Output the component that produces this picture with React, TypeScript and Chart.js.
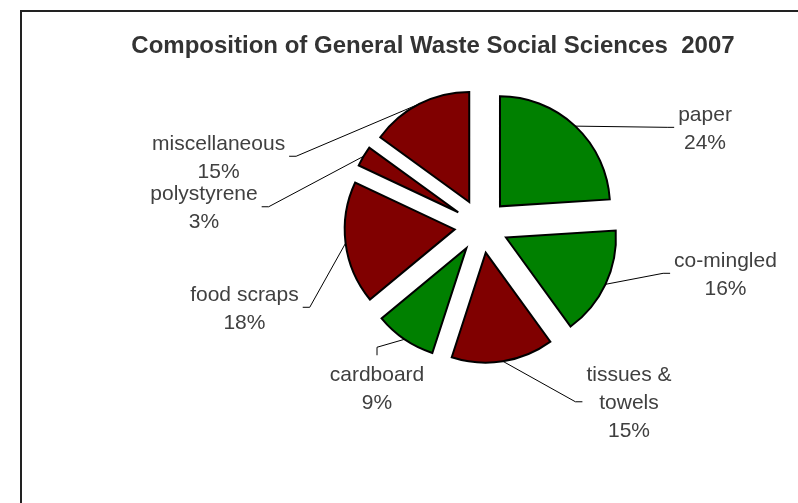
import React, { useEffect, useRef } from 'react';
import { Chart, registerables } from 'chart.js';

Chart.register(...registerables);

// ---- data ----
const categories = ['paper', 'co-mingled', 'tissues & towels', 'cardboard', 'food scraps', 'polystyrene', 'miscellaneous'];
const shares = [24, 16, 15, 9, 18, 3, 15];
const sliceColors = ['#008000', '#008000', '#800000', '#008000', '#800000', '#800000', '#800000'];
const titleText = 'Composition of General Waste Social Sciences  2007';

// ---- layout (label block centres relative to pie centre, in radii) ----
const labelPlacement: [number, number][] = [
  [2.032, -0.897],
  [2.218, 0.43],
  [1.341, 1.598],
  [-0.95, 1.466],
  [-2.155, 0.739],
  [-2.523, -0.175],
  [-2.39, -0.634],
];
const EXPLODE = 27;
const FONT = '"Liberation Sans", Arial, Helvetica, sans-serif';
const LABEL_SIZE = 21;
const LINE_H = 28;
const WRAP_W = 140;

function wrap(ctx: CanvasRenderingContext2D, text: string, maxW: number): string[] {
  const words = text.split(' ');
  const lines: string[] = [];
  let cur = '';
  for (const w of words) {
    const t = cur ? cur + ' ' + w : w;
    if (cur && ctx.measureText(t).width > maxW) {
      lines.push(cur);
      cur = w;
    } else cur = t;
  }
  if (cur) lines.push(cur);
  return lines;
}

const explodedPie = {
  id: 'explodedPie',
  beforeDatasetsDraw(chart: any) {
    const ctx: CanvasRenderingContext2D = chart.ctx;
    const meta = chart.getDatasetMeta(0);
    ctx.save();
    meta.data.forEach((arc: any) => {
      const { x, y, startAngle, endAngle, outerRadius } = arc.getProps(['x', 'y', 'startAngle', 'endAngle', 'outerRadius'], true);
      const mid = (startAngle + endAngle) / 2;
      const ox = x + Math.cos(mid) * EXPLODE;
      const oy = y + Math.sin(mid) * EXPLODE;
      ctx.beginPath();
      ctx.moveTo(ox, oy);
      ctx.arc(ox, oy, outerRadius, startAngle, endAngle);
      ctx.closePath();
      ctx.fillStyle = arc.options.backgroundColor;
      ctx.fill();
      ctx.lineWidth = arc.options.borderWidth;
      ctx.strokeStyle = arc.options.borderColor;
      ctx.lineJoin = 'miter';
      ctx.stroke();
    });
    ctx.restore();
    return false;
  },
  afterDraw(chart: any) {
    const ctx: CanvasRenderingContext2D = chart.ctx;
    const meta = chart.getDatasetMeta(0);
    const total = shares.reduce((a, b) => a + b, 0);
    ctx.save();

    // frame
    ctx.strokeStyle = '#222';
    ctx.lineWidth = 2;
    ctx.beginPath();
    ctx.moveTo(21, chart.height + 5);
    ctx.lineTo(21, 11);
    ctx.lineTo(chart.width + 5, 11);
    ctx.stroke();

    // title
    ctx.fillStyle = '#333';
    ctx.font = `bold 24px ${FONT}`;
    ctx.textAlign = 'center';
    ctx.textBaseline = 'alphabetic';
    ctx.fillText(titleText, 433, 52.5);

    // labels
    ctx.font = `${LABEL_SIZE}px ${FONT}`;
    const capH = LABEL_SIZE * 0.716;
    meta.data.forEach((arc: any, i: number) => {
      const { x, y, startAngle, endAngle, outerRadius } = arc.getProps(['x', 'y', 'startAngle', 'endAngle', 'outerRadius'], true);
      const mid = (startAngle + endAngle) / 2;
      const px = x + Math.cos(mid) * (EXPLODE + outerRadius);
      const py = y + Math.sin(mid) * (EXPLODE + outerRadius);
      const lines = wrap(ctx, categories[i], WRAP_W);
      lines.push(Math.round((shares[i] / total) * 100) + '%');
      const n = lines.length;
      const maxW = Math.max(...lines.map((l) => ctx.measureText(l).width));
      const bx = x + labelPlacement[i][0] * outerRadius;
      const by = y + labelPlacement[i][1] * outerRadius;

      ctx.fillStyle = '#404040';
      ctx.textAlign = 'center';
      ctx.textBaseline = 'alphabetic';
      lines.forEach((l, k) => {
        ctx.fillText(l, bx, by + (k - (n - 1) / 2) * LINE_H + capH / 2);
      });

      const dx = bx - px;
      const dy = by - py;
      let ex: number, ey: number, elx: number, ely: number;
      if (Math.abs(dy) > Math.abs(dx)) {
        const s = dy > 0 ? 1 : -1;
        ex = bx;
        ey = by - s * ((n * LINE_H) / 2 + 4);
        elx = ex;
        ely = ey - s * 8;
      } else {
        const s = dx > 0 ? 1 : -1;
        ex = bx - s * (maxW / 2 + 4);
        ey = by;
        elx = ex - s * 7;
        ely = ey;
      }
      ctx.strokeStyle = '#000';
      ctx.lineWidth = 1;
      ctx.beginPath();
      ctx.moveTo(px, py);
      ctx.lineTo(elx, ely);
      ctx.lineTo(ex, ey);
      ctx.stroke();
    });
    ctx.restore();
  },
};

export default function App() {
  const ref = useRef<HTMLCanvasElement>(null);
  useEffect(() => {
    if (!ref.current) return;
    const chart = new Chart(ref.current, {
      type: 'pie',
      data: {
        labels: categories,
        datasets: [
          {
            data: shares,
            backgroundColor: sliceColors,
            borderColor: '#000',
            borderWidth: 2,
          },
        ],
      },
      options: {
        responsive: false,
        animation: false,
        events: [],
        layout: { padding: { left: 281.5, right: 116.5, top: 115, bottom: 166 } },
        plugins: {
          legend: { display: false },
          tooltip: { enabled: false },
          title: { display: false },
        },
      },
      plugins: [explodedPie],
    });
    return () => chart.destroy();
  }, []);
  return (
    <canvas
      ref={ref}
      width={798}
      height={503}
      style={{ position: 'absolute', left: 0, top: 0, width: 798, height: 503, display: 'block', background: '#fff' }}
    />
  );
}
